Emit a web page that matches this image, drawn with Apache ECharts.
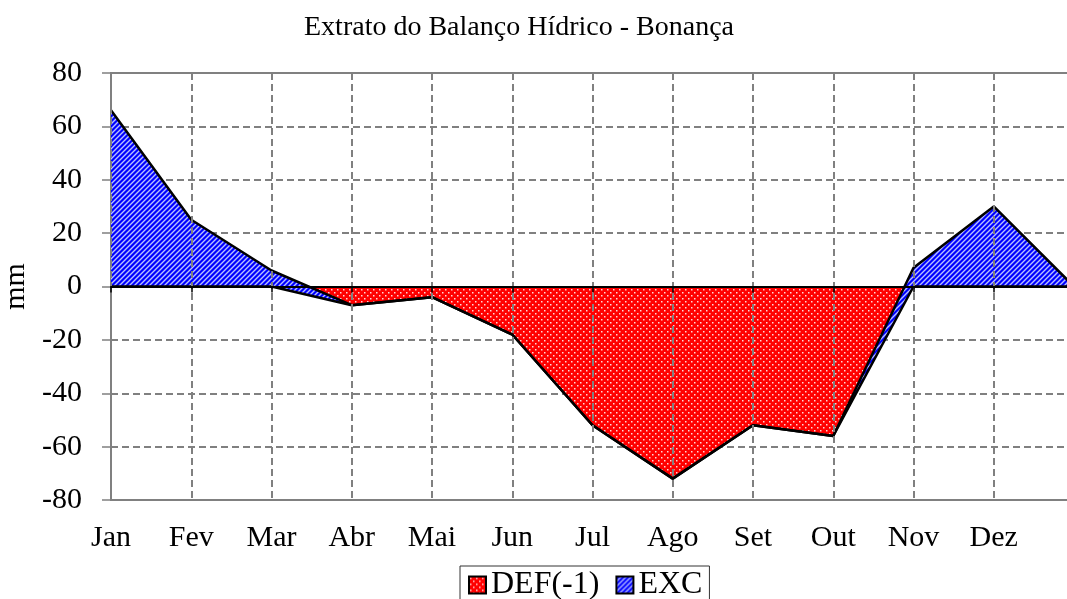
<!DOCTYPE html>
<html>
<head>
<meta charset="utf-8">
<script src="https://cdn.jsdelivr.net/npm/echarts@6/dist/echarts.min.js"></script>
<style>
  html, body { margin: 0; padding: 0; background: #fff; overflow: hidden; }
  /* the plot runs a few pixels past the right edge, like the cropped original */
  #chart { width: 1080px; height: 599px; }
</style>
</head>
<body>
<div id="chart"></div>
<script>
// meses (o 13o ponto fica fora da imagem, sem rótulo)
const months = ['Jan', 'Fev', 'Mar', 'Abr', 'Mai', 'Jun', 'Jul', 'Ago', 'Set', 'Out', 'Nov', 'Dez', ''];
const defValues = [0, 0, 0, -7, -4, -18, -52, -72, -52, -56, 0, 0, 0];
const excValues = [66, 25, 6, 0, 0, 0, 0, 0, 0, 0, 7, 30, 0];
const yTicks = { min: -80, max: 80, step: 20 };

const FONT = 'Liberation Serif';

// textura vermelha com pontinhos brancos
function dotPattern() {
  const c = document.createElement('canvas');
  c.width = 6; c.height = 6;
  const g = c.getContext('2d');
  g.fillStyle = '#ff0000';
  g.fillRect(0, 0, 6, 6);
  g.fillStyle = '#ffd6d6';
  g.fillRect(1, 1, 1.5, 1.5);
  g.fillRect(4, 4, 1.5, 1.5);
  return c;
}

// textura azul com listras diagonais
function stripePattern() {
  const c = document.createElement('canvas');
  c.width = 5; c.height = 5;
  const g = c.getContext('2d');
  g.fillStyle = '#0000ff';
  g.fillRect(0, 0, 5, 5);
  g.strokeStyle = '#b8c0ff';
  g.lineWidth = 1.4;
  g.beginPath();
  g.moveTo(-1, 6); g.lineTo(6, -1);
  g.moveTo(-1, 1); g.lineTo(1, -1);
  g.moveTo(4, 6); g.lineTo(6, 4);
  g.stroke();
  return c;
}

const redFill = { image: dotPattern(), repeat: 'repeat' };
const blueFill = { image: stripePattern(), repeat: 'repeat' };

const chart = echarts.init(document.getElementById('chart'));
chart.setOption({
  animation: false,
  title: {
    text: 'Extrato do Balanço Hídrico - Bonança',
    left: 514,
    textAlign: 'center',
    top: 9,
    textStyle: { fontFamily: FONT, fontSize: 28, fontWeight: 'normal', color: '#000' }
  },
  grid: {
    left: 111, right: 6, top: 73, bottom: 99,
    outerBoundsMode: 'none',
    containLabel: false,
    show: true, borderColor: '#808080', borderWidth: 2
  },
  legend: {
    left: 460, top: 566,
    itemWidth: 17, itemHeight: 17, itemGap: 16,
    icon: 'rect',
    borderColor: '#333', borderWidth: 1,
    padding: [3, 7, 10, 8],
    textStyle: { fontFamily: FONT, fontSize: 32, color: '#000' },
    data: [
      { name: 'DEF(-1)', itemStyle: { color: redFill, borderColor: '#000', borderWidth: 2 } },
      { name: 'EXC', itemStyle: { color: blueFill, borderColor: '#000', borderWidth: 2 } }
    ]
  },
  xAxis: [
    {
      type: 'category',
      data: months,
      boundaryGap: false,
      axisLine: { onZero: true, lineStyle: { color: '#000', width: 2 } },
      axisTick: { show: true, length: 6, lineStyle: { color: '#000', width: 1.5 } },
      axisLabel: { show: false },
      splitLine: { show: true, lineStyle: { color: '#808080', width: 2, type: [7, 4] } },
      z: 5
    },
    {
      type: 'category',
      data: months,
      boundaryGap: false,
      position: 'bottom',
      axisLine: { onZero: false, show: false },
      axisTick: { show: false },
      splitLine: { show: false },
      axisLabel: { fontFamily: FONT, fontSize: 30, color: '#000', margin: 23, interval: 0 }
    }
  ],
  yAxis: {
    type: 'value',
    min: yTicks.min, max: yTicks.max, interval: yTicks.step,
    name: 'mm',
    nameLocation: 'middle',
    nameGap: 75,
    nameRotate: 90,
    nameTextStyle: { fontFamily: FONT, fontSize: 30, color: '#000' },
    axisLine: { show: true, onZero: false, lineStyle: { color: '#808080', width: 2 } },
    axisTick: { show: true, length: 9, lineStyle: { color: '#808080', width: 1.5 } },
    axisLabel: { fontFamily: FONT, fontSize: 30, color: '#000', margin: 29 },
    splitLine: { show: true, lineStyle: { color: '#808080', width: 2, type: [7, 4] } }
  },
  series: [
    {
      name: 'DEF(-1)',
      type: 'line',
      stack: 'total',
      stackStrategy: 'all',
      showSymbol: false,
      data: defValues,
      itemStyle: { color: redFill },
      lineStyle: { color: '#000', width: 2.5 },
      areaStyle: { color: redFill, opacity: 1 }
    },
    {
      name: 'EXC',
      type: 'line',
      stack: 'total',
      stackStrategy: 'all',
      showSymbol: false,
      data: excValues,
      itemStyle: { color: blueFill },
      lineStyle: { color: '#000', width: 2.5 },
      areaStyle: { color: blueFill, opacity: 1 }
    }
  ]
});
</script>
</body>
</html>
